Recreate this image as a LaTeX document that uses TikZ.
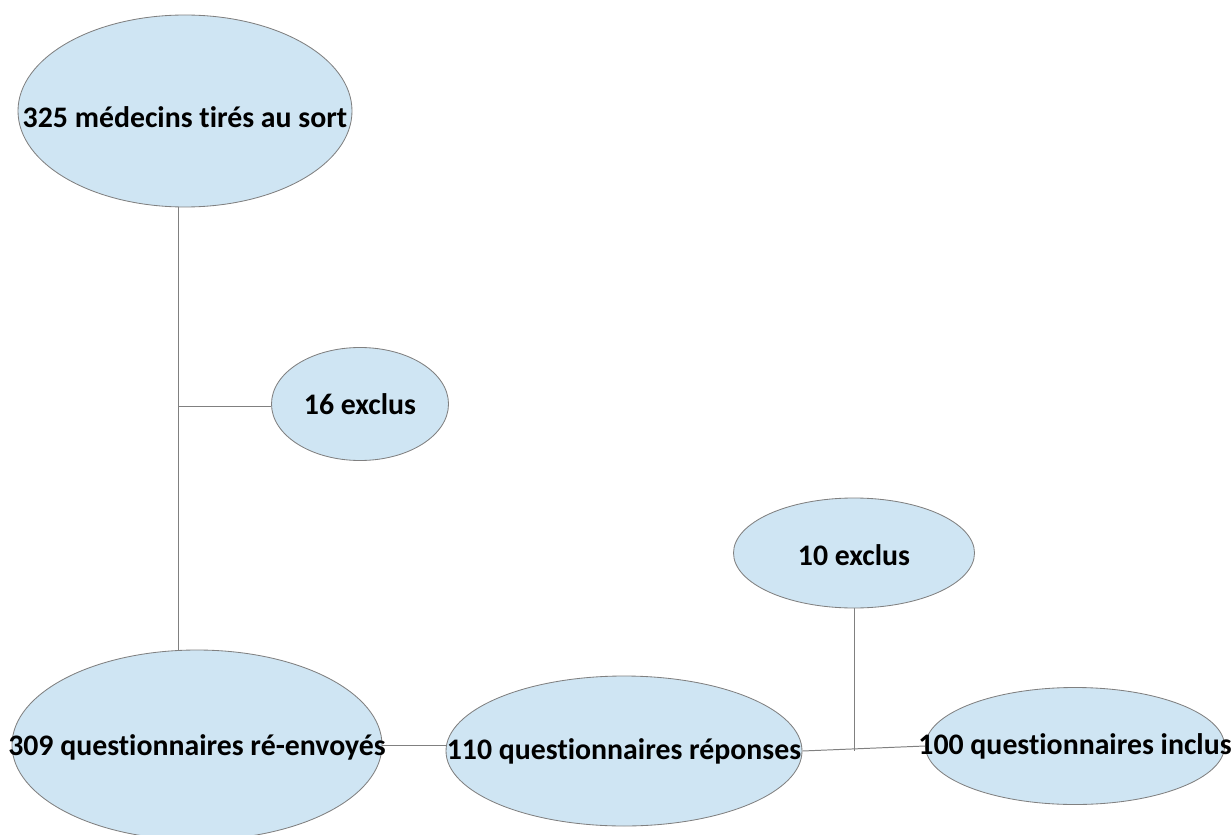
\documentclass[tikz,border=0pt]{standalone}
\usepackage{fontspec}
\setmainfont{Carlito}[Ligatures=NoCommon]
\usetikzlibrary{shapes}
\pgfdeclarelayer{edgelayer}
\pgfdeclarelayer{nodelayer}
\pgfsetlayers{edgelayer,nodelayer,main}
\definecolor{bubblefill}{RGB}{207,229,243}
\definecolor{linegray}{RGB}{128,128,128}
\tikzset{font=\bfseries\fontsize{21.2}{25}\selectfont}
\tikzstyle{none}=[inner sep=0pt]
\tikzstyle{bubble}=[ellipse,fill=bubblefill,draw=linegray,line width=0.6pt,inner sep=0pt]
\tikzstyle{link}=[draw=linegray,line width=0.7pt]

\begin{document}
\begin{tikzpicture}
	\useasboundingbox (0, 0) rectangle (30.8, -20.875);
	\begin{pgfonlayer}{nodelayer}
		\node [style=bubble, minimum width=8.35cm, minimum height=4.8cm, label={[style=none, yshift=-0.15cm]center:325 médecins tirés au sort}] (0) at (4.625, -2.775) {};
		\node [style=bubble, minimum width=4.425cm, minimum height=2.825cm, label={[style=none]center:16 exclus}] (1) at (9, -10.1) {};
		\node [style=bubble, minimum width=9.25cm, minimum height=4.75cm, label={[style=none, yshift=-0.05cm]center:309 questionnaires ré-envoyés}] (2) at (4.925, -18.625) {};
		\node [style=bubble, minimum width=8.9cm, minimum height=3.75cm, label={[style=none]center:110 questionnaires réponses}] (3) at (15.6, -18.775) {};
		\node [style=bubble, minimum width=6.025cm, minimum height=2.75cm, label={[style=none, yshift=-0.05cm]center:10 exclus}] (4) at (21.35, -13.825) {};
		\node [style=bubble, minimum width=7.475cm, minimum height=2.925cm, label={[style=none]center:100 questionnaires inclus}] (5) at (26.875, -18.65) {};
		\coordinate (6) at (4.45, -10.15);
	\end{pgfonlayer}
	\begin{pgfonlayer}{edgelayer}
		\draw[style=link] (6 |- 0.south) to (6 |- 2.north);
		\draw[style=link] (6) to (6 -| 1.west);
		\draw[style=link] (2.east) to (2.east -| 3.west);
		\draw[style=link] (3.east) to (5.west);
		\draw[style=link] (4.south) to (4.south |- 3.east);
	\end{pgfonlayer}
\end{tikzpicture}
\end{document}
